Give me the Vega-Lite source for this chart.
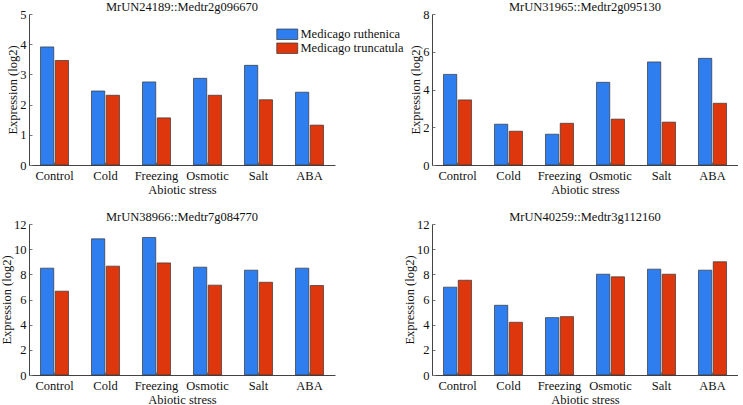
{
  "$schema": "https://vega.github.io/schema/vega-lite/v6.json",
  "padding": {"left": 0, "top": 0, "right": 0, "bottom": 0},
  "background": "white",
  "columns": 2,
  "bounds": "flush",
  "spacing": {"row": 59, "column": 97},
  "datasets": {
    "expr": [
      {"gene": "MrUN24189::Medtr2g096670", "stress": "Control", "species": "Medicago ruthenica", "value": 3.91},
      {"gene": "MrUN24189::Medtr2g096670", "stress": "Control", "species": "Medicago truncatula", "value": 3.46},
      {"gene": "MrUN24189::Medtr2g096670", "stress": "Cold", "species": "Medicago ruthenica", "value": 2.45},
      {"gene": "MrUN24189::Medtr2g096670", "stress": "Cold", "species": "Medicago truncatula", "value": 2.31},
      {"gene": "MrUN24189::Medtr2g096670", "stress": "Freezing", "species": "Medicago ruthenica", "value": 2.75},
      {"gene": "MrUN24189::Medtr2g096670", "stress": "Freezing", "species": "Medicago truncatula", "value": 1.56},
      {"gene": "MrUN24189::Medtr2g096670", "stress": "Osmotic", "species": "Medicago ruthenica", "value": 2.87},
      {"gene": "MrUN24189::Medtr2g096670", "stress": "Osmotic", "species": "Medicago truncatula", "value": 2.31},
      {"gene": "MrUN24189::Medtr2g096670", "stress": "Salt", "species": "Medicago ruthenica", "value": 3.3},
      {"gene": "MrUN24189::Medtr2g096670", "stress": "Salt", "species": "Medicago truncatula", "value": 2.16},
      {"gene": "MrUN24189::Medtr2g096670", "stress": "ABA", "species": "Medicago ruthenica", "value": 2.41},
      {"gene": "MrUN24189::Medtr2g096670", "stress": "ABA", "species": "Medicago truncatula", "value": 1.32},
      {"gene": "MrUN31965::Medtr2g095130", "stress": "Control", "species": "Medicago ruthenica", "value": 4.8},
      {"gene": "MrUN31965::Medtr2g095130", "stress": "Control", "species": "Medicago truncatula", "value": 3.45},
      {"gene": "MrUN31965::Medtr2g095130", "stress": "Cold", "species": "Medicago ruthenica", "value": 2.16},
      {"gene": "MrUN31965::Medtr2g095130", "stress": "Cold", "species": "Medicago truncatula", "value": 1.79},
      {"gene": "MrUN31965::Medtr2g095130", "stress": "Freezing", "species": "Medicago ruthenica", "value": 1.63},
      {"gene": "MrUN31965::Medtr2g095130", "stress": "Freezing", "species": "Medicago truncatula", "value": 2.21},
      {"gene": "MrUN31965::Medtr2g095130", "stress": "Osmotic", "species": "Medicago ruthenica", "value": 4.38},
      {"gene": "MrUN31965::Medtr2g095130", "stress": "Osmotic", "species": "Medicago truncatula", "value": 2.43},
      {"gene": "MrUN31965::Medtr2g095130", "stress": "Salt", "species": "Medicago ruthenica", "value": 5.46},
      {"gene": "MrUN31965::Medtr2g095130", "stress": "Salt", "species": "Medicago truncatula", "value": 2.27},
      {"gene": "MrUN31965::Medtr2g095130", "stress": "ABA", "species": "Medicago ruthenica", "value": 5.65},
      {"gene": "MrUN31965::Medtr2g095130", "stress": "ABA", "species": "Medicago truncatula", "value": 3.27},
      {"gene": "MrUN38966::Medtr7g084770", "stress": "Control", "species": "Medicago ruthenica", "value": 8.49},
      {"gene": "MrUN38966::Medtr7g084770", "stress": "Control", "species": "Medicago truncatula", "value": 6.66},
      {"gene": "MrUN38966::Medtr7g084770", "stress": "Cold", "species": "Medicago ruthenica", "value": 10.82},
      {"gene": "MrUN38966::Medtr7g084770", "stress": "Cold", "species": "Medicago truncatula", "value": 8.65},
      {"gene": "MrUN38966::Medtr7g084770", "stress": "Freezing", "species": "Medicago ruthenica", "value": 10.93},
      {"gene": "MrUN38966::Medtr7g084770", "stress": "Freezing", "species": "Medicago truncatula", "value": 8.91},
      {"gene": "MrUN38966::Medtr7g084770", "stress": "Osmotic", "species": "Medicago ruthenica", "value": 8.57},
      {"gene": "MrUN38966::Medtr7g084770", "stress": "Osmotic", "species": "Medicago truncatula", "value": 7.14},
      {"gene": "MrUN38966::Medtr7g084770", "stress": "Salt", "species": "Medicago ruthenica", "value": 8.33},
      {"gene": "MrUN38966::Medtr7g084770", "stress": "Salt", "species": "Medicago truncatula", "value": 7.37},
      {"gene": "MrUN38966::Medtr7g084770", "stress": "ABA", "species": "Medicago ruthenica", "value": 8.49},
      {"gene": "MrUN38966::Medtr7g084770", "stress": "ABA", "species": "Medicago truncatula", "value": 7.11},
      {"gene": "MrUN40259::Medtr3g112160", "stress": "Control", "species": "Medicago ruthenica", "value": 6.98},
      {"gene": "MrUN40259::Medtr3g112160", "stress": "Control", "species": "Medicago truncatula", "value": 7.53},
      {"gene": "MrUN40259::Medtr3g112160", "stress": "Cold", "species": "Medicago ruthenica", "value": 5.54},
      {"gene": "MrUN40259::Medtr3g112160", "stress": "Cold", "species": "Medicago truncatula", "value": 4.19},
      {"gene": "MrUN40259::Medtr3g112160", "stress": "Freezing", "species": "Medicago ruthenica", "value": 4.56},
      {"gene": "MrUN40259::Medtr3g112160", "stress": "Freezing", "species": "Medicago truncatula", "value": 4.64},
      {"gene": "MrUN40259::Medtr3g112160", "stress": "Osmotic", "species": "Medicago ruthenica", "value": 8.01},
      {"gene": "MrUN40259::Medtr3g112160", "stress": "Osmotic", "species": "Medicago truncatula", "value": 7.8},
      {"gene": "MrUN40259::Medtr3g112160", "stress": "Salt", "species": "Medicago ruthenica", "value": 8.41},
      {"gene": "MrUN40259::Medtr3g112160", "stress": "Salt", "species": "Medicago truncatula", "value": 8.01},
      {"gene": "MrUN40259::Medtr3g112160", "stress": "ABA", "species": "Medicago ruthenica", "value": 8.33},
      {"gene": "MrUN40259::Medtr3g112160", "stress": "ABA", "species": "Medicago truncatula", "value": 9.0}
    ]
  },
  "concat": [
    {
      "title": "MrUN24189::Medtr2g096670",
      "width": 306, "height": 151,
      "data": {"name": "expr"},
      "transform": [{"filter": "datum.gene == 'MrUN24189::Medtr2g096670'"}],
      "mark": {"type": "bar", "stroke": "#333333", "strokeWidth": 0.7},
      "encoding": {
        "x": {"field": "stress", "type": "nominal", "sort": ["Control", "Cold", "Freezing", "Osmotic", "Salt", "ABA"], "scale": {"paddingInner": 0.45, "paddingOuter": 0.225}, "axis": {"title": "Abiotic stress"}},
        "xOffset": {"field": "species", "type": "nominal", "scale": {"paddingInner": 0.1}},
        "y": {"field": "value", "type": "quantitative", "scale": {"domain": [0, 5], "nice": false}, "axis": {"title": "Expression (log2)", "values": [0, 1, 2, 3, 4, 5]}},
        "color": {"field": "species", "type": "nominal", "scale": {"domain": ["Medicago ruthenica", "Medicago truncatula"], "range": ["#2f7ef0", "#de370d"]}, "legend": {"title": null, "orient": "none", "legendX": 252, "legendY": 14}}
      }
    },
    {
      "title": "MrUN31965::Medtr2g095130",
      "width": 306, "height": 151,
      "data": {"name": "expr"},
      "transform": [{"filter": "datum.gene == 'MrUN31965::Medtr2g095130'"}],
      "mark": {"type": "bar", "stroke": "#333333", "strokeWidth": 0.7},
      "encoding": {
        "x": {"field": "stress", "type": "nominal", "sort": ["Control", "Cold", "Freezing", "Osmotic", "Salt", "ABA"], "scale": {"paddingInner": 0.45, "paddingOuter": 0.225}, "axis": {"title": "Abiotic stress"}},
        "xOffset": {"field": "species", "type": "nominal", "scale": {"paddingInner": 0.1}},
        "y": {"field": "value", "type": "quantitative", "scale": {"domain": [0, 8], "nice": false}, "axis": {"title": "Expression (log2)", "values": [0, 2, 4, 6, 8]}},
        "color": {"field": "species", "type": "nominal"}
      }
    },
    {
      "title": "MrUN38966::Medtr7g084770",
      "width": 306, "height": 151,
      "data": {"name": "expr"},
      "transform": [{"filter": "datum.gene == 'MrUN38966::Medtr7g084770'"}],
      "mark": {"type": "bar", "stroke": "#333333", "strokeWidth": 0.7},
      "encoding": {
        "x": {"field": "stress", "type": "nominal", "sort": ["Control", "Cold", "Freezing", "Osmotic", "Salt", "ABA"], "scale": {"paddingInner": 0.45, "paddingOuter": 0.225}, "axis": {"title": "Abiotic stress"}},
        "xOffset": {"field": "species", "type": "nominal", "scale": {"paddingInner": 0.1}},
        "y": {"field": "value", "type": "quantitative", "scale": {"domain": [0, 12], "nice": false}, "axis": {"title": "Expression (log2)", "values": [0, 2, 4, 6, 8, 10, 12]}},
        "color": {"field": "species", "type": "nominal"}
      }
    },
    {
      "title": "MrUN40259::Medtr3g112160",
      "width": 306, "height": 151,
      "data": {"name": "expr"},
      "transform": [{"filter": "datum.gene == 'MrUN40259::Medtr3g112160'"}],
      "mark": {"type": "bar", "stroke": "#333333", "strokeWidth": 0.7},
      "encoding": {
        "x": {"field": "stress", "type": "nominal", "sort": ["Control", "Cold", "Freezing", "Osmotic", "Salt", "ABA"], "scale": {"paddingInner": 0.45, "paddingOuter": 0.225}, "axis": {"title": "Abiotic stress"}},
        "xOffset": {"field": "species", "type": "nominal", "scale": {"paddingInner": 0.1}},
        "y": {"field": "value", "type": "quantitative", "scale": {"domain": [0, 12], "nice": false}, "axis": {"title": "Expression (log2)", "values": [0, 2, 4, 6, 8, 10, 12]}},
        "color": {"field": "species", "type": "nominal"}
      }
    }
  ],
  "config": {
    "font": "Liberation Serif",
    "view": {"stroke": null},
    "title": {"fontSize": 12.5, "fontWeight": "normal", "color": "#111111", "offset": -5, "font": "Liberation Serif"},
    "axis": {"labelFont": "Liberation Serif", "titleFont": "Liberation Serif", "labelFontSize": 12.5, "titleFontSize": 12.5, "titleFontWeight": "normal", "labelColor": "#111111", "titleColor": "#111111", "domainColor": "#444444", "tickColor": "#777777", "grid": false},
    "axisX": {"labelAngle": 0, "tickSize": -3, "labelPadding": 7, "titlePadding": 2},
    "axisY": {"tickSize": -3, "labelPadding": 6, "titlePadding": 0},
    "legend": {"labelFont": "Liberation Serif", "labelFontSize": 12.5, "labelColor": "#111111", "symbolType": "M-2,-1H2V1H-2Z", "symbolSize": 110, "symbolStrokeWidth": 0.7, "symbolStrokeColor": "#333333", "symbolOpacity": 1, "rowPadding": 0, "labelOffset": 7, "padding": 0}
  }
}
